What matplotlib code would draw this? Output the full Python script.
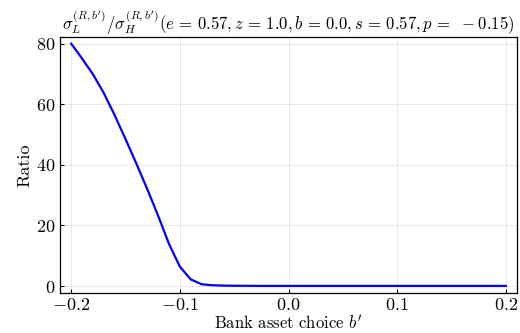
import matplotlib
matplotlib.use('Agg')
import matplotlib.pyplot as plt

# data
b_prime = [-0.20, -0.19, -0.18, -0.17, -0.16, -0.15, -0.14, -0.13, -0.12, -0.11,
           -0.10, -0.09, -0.08, -0.07, -0.06, -0.05, -0.04, -0.03, -0.02, -0.01,
           0.00, 0.01, 0.02, 0.03, 0.04, 0.05, 0.06, 0.07, 0.08, 0.09,
           0.10, 0.11, 0.12, 0.13, 0.14, 0.15, 0.16, 0.17, 0.18, 0.19, 0.20]
ratio = [80.0, 75.1, 69.9, 63.7, 56.4, 48.5, 40.4, 32.0, 23.2, 13.9,
         6.4, 2.2, 0.6, 0.25, 0.15, 0.1, 0.08, 0.06, 0.05, 0.05,
         0.05, 0.05, 0.05, 0.05, 0.05, 0.05, 0.05, 0.05, 0.05, 0.05,
         0.05, 0.05, 0.05, 0.05, 0.05, 0.05, 0.05, 0.05, 0.05, 0.05, 0.05]
xticks = [-0.2, -0.1, 0.0, 0.1, 0.2]
xtick_labels = ['$-0.2$', '$-0.1$', '$0.0$', '$0.1$', '$0.2$']
yticks = [0, 20, 40, 60, 80]
ytick_labels = ['$0$', '$20$', '$40$', '$60$', '$80$']

plt.rcParams['mathtext.fontset'] = 'cm'
plt.rcParams['font.family'] = 'serif'
plt.rcParams['font.serif'] = ['cmr10', 'DejaVu Serif']
plt.rcParams['axes.unicode_minus'] = False

fig = plt.figure(figsize=(5.2, 3.33), dpi=100)
ax = fig.add_axes([60/520, 40/333, 457/520, 256/333])

ax.plot(b_prime, ratio, color='blue', lw=1.6)

ax.set_xlim(-0.2103, 0.2103)
ax.set_ylim(-2.3, 82.2)
ax.set_xticks(xticks)
ax.set_xticklabels(xtick_labels, fontsize=13)
ax.set_yticks(yticks)
ax.set_yticklabels(ytick_labels, fontsize=13)
ax.tick_params(direction='in', length=3, width=0.8, pad=3)
ax.grid(True, color='black', alpha=0.1, lw=0.6)
for sp in ax.spines.values():
    sp.set_linewidth(0.9)

ax.set_xlabel("Bank asset choice $b'$", fontsize=12, labelpad=1)
ax.set_ylabel('Ratio', fontsize=13, labelpad=3)
ax.set_title(r"$\sigma_L^{(R,b^{\prime})}/\sigma_H^{(R,b^{\prime})}(e\,=\,0.57, z\,=\,1.0, b\,=\,0.0, s\,=\,0.57, p\,=\;\, -0.15)$",
             fontsize=12, pad=5)

fig.savefig('out.png', dpi=100)
